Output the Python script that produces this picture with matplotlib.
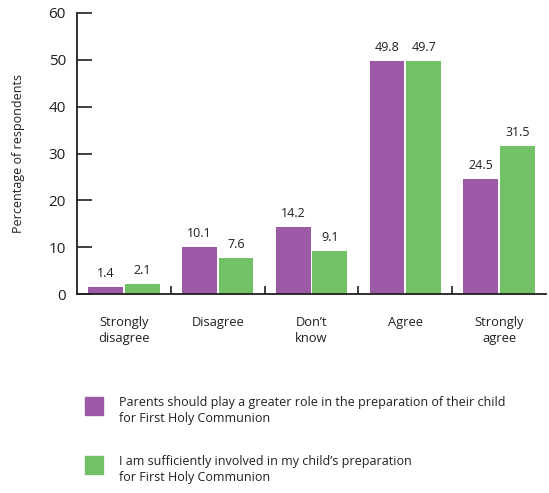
import matplotlib
matplotlib.use("Agg")
import matplotlib.pyplot as plt
import numpy as np
from matplotlib.patches import Rectangle

categories = ["Strongly\ndisagree", "Disagree", "Don\u2019t\nknow", "Agree", "Strongly\nagree"]
parents_role = [1.4, 10.1, 14.2, 49.8, 24.5]
involved = [2.1, 7.6, 9.1, 49.7, 31.5]
series_labels = [
    "Parents should play a greater role in the preparation of their child\nfor First Holy Communion",
    "I am sufficiently involved in my child\u2019s preparation\nfor First Holy Communion",
]
colors = ["#9B59A6", "#72C167"]
yticks = [0, 10, 20, 30, 40, 50, 60]

plt.rcParams["font.family"] = ["Open Sans", "DejaVu Sans"]

fig = plt.figure(figsize=(5.49, 4.93), dpi=100)
ax = fig.add_axes([77/549, 1-294/493, (546-77)/549, (294-13)/493])

x = np.arange(len(categories)) + 0.5
w = 0.37
off = 0.195
b1 = ax.bar(x - off, parents_role, w, color=colors[0])
b2 = ax.bar(x + off, involved, w, color=colors[1])
for bars, vals in ((b1, parents_role), (b2, involved)):
    for r, v in zip(bars, vals):
        ax.text(r.get_x() + r.get_width()/2, v + 1.5, f"{v:.1f}", ha="center", va="bottom",
                fontsize=9, color="#231f20")

ax.set_xlim(0, 5)
ax.set_ylim(0, 60)
ax.set_yticks(yticks)
ax.set_yticklabels([str(t) for t in yticks], fontsize=11, color="#231f20")
ax.tick_params(axis="y", direction="in", length=11, width=1.2, pad=8, color="#231f20")
ax.set_xticks(np.arange(1, 5))
ax.set_xticklabels([])
ax.tick_params(axis="x", direction="in", length=6, width=1.2, color="#231f20")
for xi, lab in zip(x, categories):
    ax.text(xi, -4.6, lab, ha="center", va="top", fontsize=9.3, color="#231f20",
            linespacing=1.3)
for s in ["top", "right"]:
    ax.spines[s].set_visible(False)
for s in ["left", "bottom"]:
    ax.spines[s].set_linewidth(1.3)
    ax.spines[s].set_color("#231f20")

ax.set_ylabel("Percentage of respondents", fontsize=9, color="#231f20", labelpad=17)

# legend
for i, (lab, c) in enumerate(zip(series_labels, colors)):
    ytop = 397 + i * 59
    fig.patches.append(Rectangle((85/549, 1-(ytop+18)/493), 18/549, 18/493,
                                 transform=fig.transFigure, color=c))
    fig.text(119/549, 1-(ytop-1)/493, lab, ha="left", va="top", fontsize=9,
             color="#231f20", linespacing=1.3)

fig.savefig("out.png", dpi=100)
